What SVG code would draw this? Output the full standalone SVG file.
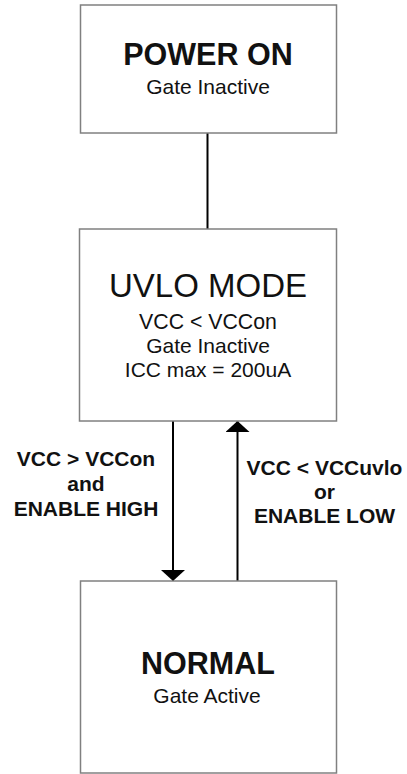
<svg xmlns="http://www.w3.org/2000/svg" width="407" height="774" viewBox="0 0 407 774">
<defs>
<style>
.box{fill:#fff;stroke:#808080;stroke-width:1.5}
.conn{stroke:#000;stroke-width:2;fill:none}
.t{font-family:"Liberation Sans",Arial,sans-serif;fill:#111;text-anchor:middle}
.b{font-weight:bold}
</style>
<marker id="ah" viewBox="0 0 11 24" refX="11" refY="12" markerWidth="11" markerHeight="24" markerUnits="userSpaceOnUse" orient="auto">
<path d="M0,0 L11,12 L0,24 Z" fill="#000"/>
</marker>
</defs>
<rect width="407" height="774" fill="#fff"/>
<g id="connectors">
<line class="conn" x1="207.5" y1="133" x2="207.5" y2="229"/>
<line class="conn" x1="173" y1="421" x2="173" y2="581" marker-end="url(#ah)"/>
<line class="conn" x1="237.5" y1="581" x2="237.5" y2="421" marker-end="url(#ah)"/>
</g>
<g id="power-on">
<rect class="box" x="80.5" y="5" width="256" height="128"/>
<text class="t b" x="208" y="65" font-size="30.5">POWER ON</text>
<text class="t" x="208" y="93.5" font-size="21">Gate Inactive</text>
</g>
<g id="uvlo-mode">
<rect class="box" x="79.5" y="229" width="257" height="192"/>
<text class="t" x="208" y="296.5" font-size="33">UVLO MODE</text>
<text class="t" x="208" y="329" font-size="21.3">VCC &lt; VCCon</text>
<text class="t" x="208" y="353" font-size="21">Gate Inactive</text>
<text class="t" x="208" y="377" font-size="21">ICC max = 200uA</text>
</g>
<g id="normal">
<rect class="box" x="80.5" y="581" width="256" height="192"/>
<text class="t b" x="208" y="674" font-size="30.5">NORMAL</text>
<text class="t" x="207" y="702.5" font-size="21">Gate Active</text>
</g>
<g id="label-up">
<text class="t b" x="86" y="466" font-size="21">VCC &gt; VCCon</text>
<text class="t b" x="86" y="491" font-size="21">and</text>
<text class="t b" x="86" y="516" font-size="21">ENABLE HIGH</text>
</g>
<g id="label-down">
<text class="t b" x="324.5" y="474.5" font-size="21">VCC &lt; VCCuvlo</text>
<text class="t b" x="324.5" y="498.5" font-size="21">or</text>
<text class="t b" x="324.5" y="523" font-size="21">ENABLE LOW</text>
</g>
</svg>
